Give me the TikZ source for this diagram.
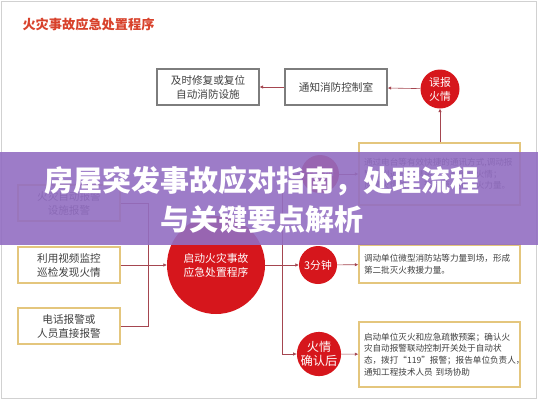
\documentclass[tikz,border=0pt]{standalone}
\usepackage{fontspec}
\setmainfont{Noto Sans CJK SC}
\usetikzlibrary{positioning,arrows.meta}
\definecolor{firered}{RGB}{214,22,28}
\definecolor{titlered}{RGB}{216,66,44}
\definecolor{linered}{RGB}{165,70,80}
\definecolor{boxgray}{RGB}{125,125,125}
\definecolor{boxgold}{RGB}{228,198,125}
\definecolor{bandpurple}{RGB}{146,110,194}
\tikzset{
  graybox/.style  = {shape=rectangle, draw=boxgray, line width=1.4pt,
                     fill=white, align=center, text=black!75,
                     minimum width=102pt, minimum height=36pt,
                     font=\fontsize{10.6}{14}\selectfont},
  goldbox/.style  = {graybox, draw=boxgold},
  descbox/.style  = {shape=rectangle, draw=boxgold, line width=1.4pt,
                     fill=white, align=left, text=black!75,
                     text width=151pt, inner sep=5pt,
                     font=\fontsize{8.6}{11.8}\selectfont},
  redcirc/.style  = {shape=circle, fill=firered, text=white,
                     align=center, inner sep=0pt, minimum size=39pt,
                     font=\fontsize{10.8}{14}\selectfont},
  bigcirc/.style  = {redcirc, minimum size=98pt}
}
\begin{document}
\begin{tikzpicture}
  [
    x = 1pt, y = -1pt,
    link/.style = {draw=linered, line width=0.6pt},
    arr/.style  = {link, -{Latex[length=3.5pt,width=3.5pt]}}
  ]
  \useasboundingbox (0,0) rectangle (538,400);
  \draw [black!18, line width=1pt] (1,1) rectangle (536,398);

  \node [anchor=west, text=titlered, font=\fontsize{13.2}{15}\selectfont\bfseries]
    (title) at (19,24) {火灾事故应急处置程序};

  % top row
  \node [graybox] (fix)    at (208,87)  {及时修复或复位\\自动消防设施};
  \node [graybox] (notify) at (336,87)  {通知消防控制室};
  \node [redcirc] (false)  at (440,89)  {误报\\火情};

  % alarm sources
  \node [goldbox] (auto)  at (69,203) {火灾自动报警\\设施报警};
  \node [goldbox] (video) at (69,265) {利用视频监控\\巡检发现火情};
  \node [goldbox] (phone) at (69,326) {电话报警或\\人员直接报警};

  \node [bigcirc] (start) at (216,265) {启动火灾事故\\应急处置程序};

  % time steps
  \node [redcirc, minimum size=38pt] (one)   at (320,174) {1分钟};
  \node [redcirc, minimum size=38pt] (three) at (318,265) {3分钟};
  \node [redcirc, minimum size=42pt, font=\fontsize{12.2}{13.5}\selectfont]
    (confirm) at (319,354) {火情\\确认后};

  \node [descbox, minimum height=62pt] (stepone) at (439.5,174)
    {通过电台等有效快捷的通讯方式,调动报\\警点附近员工携带灭火器确认火情；\\反馈火情信息，形成第一批灭火力量。};
  \node [descbox, minimum height=38pt] (stepthree) at (439.5,264)
    {调动单位微型消防站等力量到场，形成\\第二批灭火救援力量。};
  \node [descbox, minimum height=65pt] (stepconfirm) at (439.5,354.5)
    {启动单位灭火和应急疏散预案；确认火\\灾自动报警联动控制开关处于自动状\\态，拨打“119”报警；报告单位负责人，\\通知工程技术人员 到场协助};

  \coordinate (busL) at (148,265);
  \coordinate (busR) at (282,265);

  \draw [arr] (false) -- (notify);
  \draw [arr] (notify) -- (fix);
  \draw [arr] (stepone.north -| false) -- (false);
  \draw [link] (auto.east) -| (busL);
  \draw [link] (phone.east) -| (busL);
  \draw [arr] (video.east) -- (start);
  \draw [link] (start) -- (busR);
  \draw [arr] (busR) -- (three);
  \draw [arr] (busR) |- (one);
  \draw [arr] (busR) |- (confirm);
  \draw [arr] (one) -- (stepone);
  \draw [arr] (three) -- (stepthree);
  \draw [arr] (confirm) -- (stepconfirm);

  % banner over the chart
  \fill [bandpurple, opacity=0.9] (0,152) rectangle (538,245);
  \node [text=white, align=center, font=\fontsize{29}{39}\selectfont\bfseries]
    (banner) at (262,200) {房屋突发事故应对指南，处理流程\\与关键要点解析};
\end{tikzpicture}
\end{document}
